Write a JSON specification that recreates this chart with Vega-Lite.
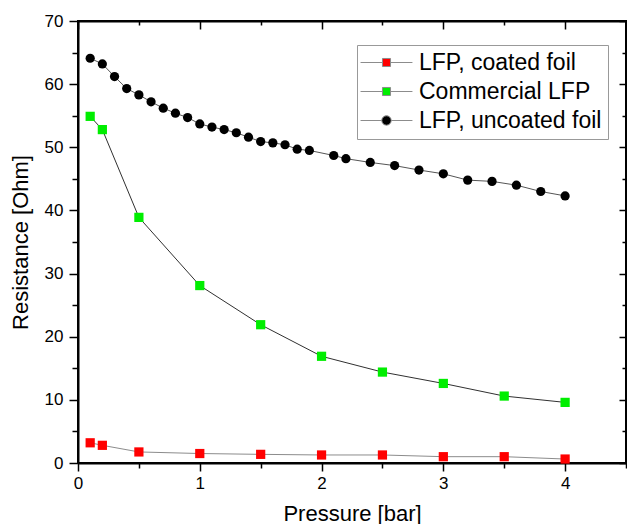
{
  "$schema": "https://vega.github.io/schema/vega-lite/v6.json",
  "width": 548,
  "height": 442,
  "autosize": {"type": "none"},
  "padding": {"left": 78, "top": 21, "right": 1, "bottom": 61},
  "background": "white",
  "config": {
    "font": "Liberation Sans",
    "view": {"stroke": "black", "strokeWidth": 2},
    "axis": {
      "grid": false,
      "domainColor": "black",
      "domainWidth": 2,
      "tickColor": "black",
      "tickWidth": 1.5,
      "labelColor": "black",
      "labelFont": "Liberation Sans",
      "labelFontSize": 17,
      "labelFlush": false,
      "labelOverlap": false,
      "titleColor": "black",
      "titleFont": "Liberation Sans",
      "titleFontSize": 22,
      "titleFontWeight": "normal"
    }
  },
  "data": {
    "values": [
      {"p": 0.1, "r": 3.2, "s": "LFP, coated foil"},
      {"p": 0.2, "r": 2.8, "s": "LFP, coated foil"},
      {"p": 0.5, "r": 1.75, "s": "LFP, coated foil"},
      {"p": 1.0, "r": 1.5, "s": "LFP, coated foil"},
      {"p": 1.5, "r": 1.37, "s": "LFP, coated foil"},
      {"p": 2.0, "r": 1.27, "s": "LFP, coated foil"},
      {"p": 2.5, "r": 1.27, "s": "LFP, coated foil"},
      {"p": 3.0, "r": 1.0, "s": "LFP, coated foil"},
      {"p": 3.5, "r": 1.0, "s": "LFP, coated foil"},
      {"p": 4.0, "r": 0.63, "s": "LFP, coated foil"},
      {"p": 0.1, "r": 54.9, "s": "Commercial LFP"},
      {"p": 0.2, "r": 52.8, "s": "Commercial LFP"},
      {"p": 0.5, "r": 38.9, "s": "Commercial LFP"},
      {"p": 1.0, "r": 28.1, "s": "Commercial LFP"},
      {"p": 1.5, "r": 21.9, "s": "Commercial LFP"},
      {"p": 2.0, "r": 16.9, "s": "Commercial LFP"},
      {"p": 2.5, "r": 14.4, "s": "Commercial LFP"},
      {"p": 3.0, "r": 12.6, "s": "Commercial LFP"},
      {"p": 3.5, "r": 10.6, "s": "Commercial LFP"},
      {"p": 4.0, "r": 9.6, "s": "Commercial LFP"},
      {"p": 0.1, "r": 64.1, "s": "LFP, uncoated foil"},
      {"p": 0.2, "r": 63.2, "s": "LFP, uncoated foil"},
      {"p": 0.3, "r": 61.2, "s": "LFP, uncoated foil"},
      {"p": 0.4, "r": 59.3, "s": "LFP, uncoated foil"},
      {"p": 0.5, "r": 58.3, "s": "LFP, uncoated foil"},
      {"p": 0.6, "r": 57.2, "s": "LFP, uncoated foil"},
      {"p": 0.7, "r": 56.2, "s": "LFP, uncoated foil"},
      {"p": 0.8, "r": 55.4, "s": "LFP, uncoated foil"},
      {"p": 0.9, "r": 54.7, "s": "LFP, uncoated foil"},
      {"p": 1.0, "r": 53.7, "s": "LFP, uncoated foil"},
      {"p": 1.1, "r": 53.2, "s": "LFP, uncoated foil"},
      {"p": 1.2, "r": 52.8, "s": "LFP, uncoated foil"},
      {"p": 1.3, "r": 52.3, "s": "LFP, uncoated foil"},
      {"p": 1.4, "r": 51.6, "s": "LFP, uncoated foil"},
      {"p": 1.5, "r": 50.9, "s": "LFP, uncoated foil"},
      {"p": 1.6, "r": 50.7, "s": "LFP, uncoated foil"},
      {"p": 1.7, "r": 50.4, "s": "LFP, uncoated foil"},
      {"p": 1.8, "r": 49.7, "s": "LFP, uncoated foil"},
      {"p": 1.9, "r": 49.5, "s": "LFP, uncoated foil"},
      {"p": 2.1, "r": 48.7, "s": "LFP, uncoated foil"},
      {"p": 2.2, "r": 48.2, "s": "LFP, uncoated foil"},
      {"p": 2.4, "r": 47.6, "s": "LFP, uncoated foil"},
      {"p": 2.6, "r": 47.1, "s": "LFP, uncoated foil"},
      {"p": 2.8, "r": 46.4, "s": "LFP, uncoated foil"},
      {"p": 3.0, "r": 45.8, "s": "LFP, uncoated foil"},
      {"p": 3.2, "r": 44.8, "s": "LFP, uncoated foil"},
      {"p": 3.4, "r": 44.6, "s": "LFP, uncoated foil"},
      {"p": 3.6, "r": 44.0, "s": "LFP, uncoated foil"},
      {"p": 3.8, "r": 43.0, "s": "LFP, uncoated foil"},
      {"p": 4.0, "r": 42.3, "s": "LFP, uncoated foil"}
    ]
  },
  "layer": [
    {
      "mark": {"type": "line", "strokeWidth": 1},
      "encoding": {
        "x": {
          "field": "p", "type": "quantitative",
          "scale": {"domain": [0, 4.5], "nice": false, "zero": false},
          "axis": {
            "orient": "bottom",
            "values": [0, 0.5, 1, 1.5, 2, 2.5, 3, 3.5, 4, 4.5],
            "labelExpr": "datum.value % 1 === 0 ? format(datum.value, 'd') : ''",
            "tickSize": {"condition": {"test": "datum.value % 1 === 0", "value": 8}, "value": 5},
            "labelPadding": 4,
            "title": "Pressure [bar]",
            "titlePadding": 12
          }
        },
        "y": {
          "field": "r", "type": "quantitative",
          "scale": {"domain": [0, 70], "nice": false},
          "axis": {
            "orient": "left",
            "values": [0, 5, 10, 15, 20, 25, 30, 35, 40, 45, 50, 55, 60, 65, 70],
            "labelExpr": "datum.value % 10 === 0 ? format(datum.value, 'd') : ''",
            "tickSize": {"condition": {"test": "datum.value % 10 === 0", "value": 9}, "value": 6},
            "labelPadding": 6,
            "title": "Resistance [Ohm]",
            "titlePadding": 12
          }
        },
        "detail": {"field": "s", "type": "nominal"},
        "stroke": {
          "field": "s", "type": "nominal",
          "scale": {"domain": ["Commercial LFP", "LFP, coated foil", "LFP, uncoated foil"], "range": ["#303030", "#8c8c8c", "#555555"]},
          "legend": null
        }
      }
    },
    {
      "mark": {"type": "point", "filled": true, "size": 85, "opacity": 1},
      "encoding": {
        "x": {
          "field": "p", "type": "quantitative",
          "axis": {
            "orient": "top",
            "values": [0, 0.5, 1, 1.5, 2, 2.5, 3, 3.5, 4, 4.5],
            "labels": false,
            "title": null,
            "tickSize": {"condition": {"test": "datum.value % 1 === 0", "value": -8}, "value": -4}
          }
        },
        "y": {
          "field": "r", "type": "quantitative",
          "axis": {
            "orient": "right",
            "values": [0, 5, 10, 15, 20, 25, 30, 35, 40, 45, 50, 55, 60, 65, 70],
            "labels": false,
            "title": null,
            "tickSize": {"condition": {"test": "datum.value % 10 === 0", "value": -7}, "value": -4}
          }
        },
        "color": {
          "field": "s", "type": "nominal",
          "scale": {"domain": ["LFP, coated foil", "Commercial LFP", "LFP, uncoated foil"], "range": ["#ff0000", "#00ee00", "#000000"]},
          "legend": {
            "orient": "none", "legendX": 279, "legendY": 24,
            "title": null,
            "labelFont": "Liberation Sans", "labelFontSize": 23, "labelColor": "black", "labelLimit": 400,
            "symbolSize": 80, "symbolOffset": 12, "labelOffset": 21,
            "symbolType": {"expr": "datum.value === 'LFP, uncoated foil' ? 'M-5.8,0H-1.05M1.05,0H5.8M1.05,0A1.05,1.05 0 1,1 -1.05,0A1.05,1.05 0 1,1 1.05,0Z' : 'M-5.8,0H-0.9M0.9,0H5.8M-0.9,-0.9H0.9V0.9H-0.9Z'"},
            "symbolStrokeColor": "#8c8c8c",
            "symbolStrokeWidth": 1,
            "padding": 6, "rowPadding": 5,
            "strokeColor": "#999999", "fillColor": "white"
          }
        },
        "shape": {
          "field": "s", "type": "nominal",
          "scale": {"domain": ["LFP, uncoated foil", "LFP, coated foil", "Commercial LFP"], "range": ["circle", "square", "square"]},
          "legend": null
        }
      }
    }
  ],
  "resolve": {"axis": {"x": "independent", "y": "independent"}}
}
